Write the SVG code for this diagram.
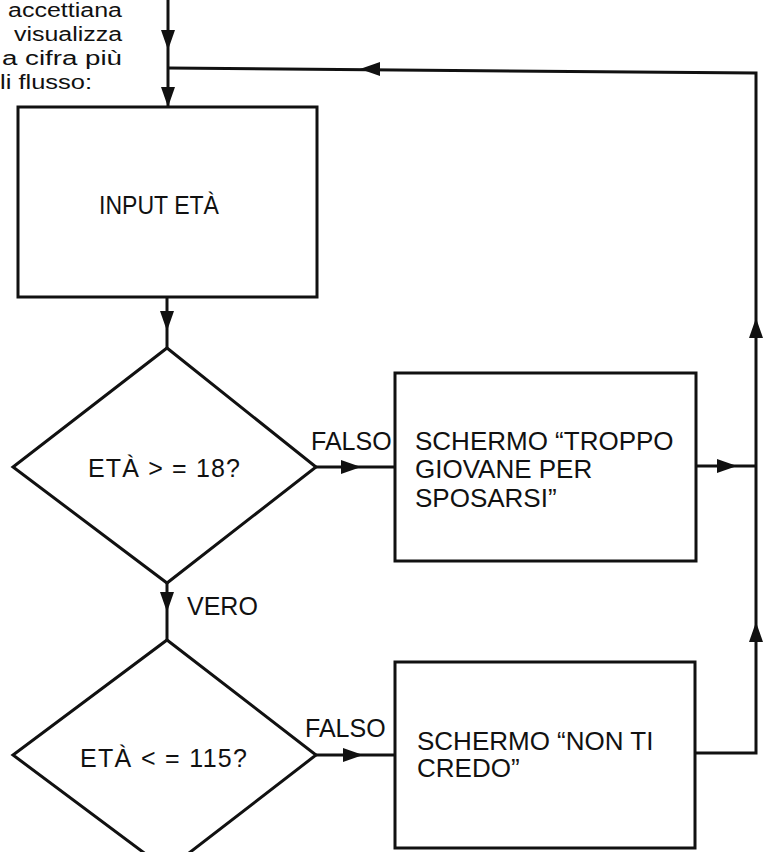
<svg xmlns="http://www.w3.org/2000/svg" xmlns:xlink="http://www.w3.org/1999/xlink" width="768" height="852" viewBox="0 0 768 852">
<style>
.shape{fill:#fff;stroke:#111;stroke-width:3;stroke-linejoin:miter}
.line{fill:none;stroke:#111;stroke-width:3}
.t{font-family:"Liberation Sans",Arial,sans-serif;font-size:25px;fill:#111}
.b{font-family:"Liberation Sans",Arial,sans-serif;font-size:26px;fill:#111}
.cap{font-family:"Liberation Sans",Arial,sans-serif;font-size:20px;fill:#111}
.ah{fill:#111}
</style>
<defs>
<path id="ah" d="M0,0 L-20,-7 L-20,7 Z"/>
</defs>
<rect width="768" height="852" fill="#fff"/>
<g id="caption">
<text class="cap" x="8" y="17" textLength="114" lengthAdjust="spacingAndGlyphs">accettiana</text>
<text class="cap" x="14" y="41" textLength="108" lengthAdjust="spacingAndGlyphs">visualizza</text>
<text class="cap" x="2" y="65" textLength="120" lengthAdjust="spacingAndGlyphs">a cifra più</text>
<text class="cap" x="0" y="89" textLength="92" lengthAdjust="spacingAndGlyphs">li flusso:</text>
</g>
<g id="connectors">
<path class="line" d="M168,0 V107"/>
<path class="line" d="M695,753 H756 V73 L168,68"/>
<path class="line" d="M696,466 H756"/>
<path class="line" d="M316,467 H395"/>
<path class="line" d="M316,755 H395"/>
<path class="line" d="M167,297 V348"/>
<path class="line" d="M167,583 V640"/>
<g class="ah">
<use xlink:href="#ah" transform="translate(168,50) rotate(90)"/>
<use xlink:href="#ah" transform="translate(168,107) rotate(90)"/>
<use xlink:href="#ah" transform="translate(360,69) rotate(180)"/>
<use xlink:href="#ah" transform="translate(756,318) rotate(-90)"/>
<use xlink:href="#ah" transform="translate(756,622) rotate(-90)"/>
<use xlink:href="#ah" transform="translate(737,466)"/>
<use xlink:href="#ah" transform="translate(361,467)"/>
<use xlink:href="#ah" transform="translate(363,755)"/>
<use xlink:href="#ah" transform="translate(167,331) rotate(90)"/>
<use xlink:href="#ah" transform="translate(167,612) rotate(90)"/>
</g>
<text class="t" x="311" y="450">FALSO</text>
<text class="t" x="187" y="615">VERO</text>
<text class="t" x="305" y="737">FALSO</text>
</g>
<g id="input">
<rect class="shape" x="18" y="107" width="299" height="190"/>
<text class="t" x="99" y="214" textLength="120" lengthAdjust="spacingAndGlyphs">INPUT ETÀ</text>
</g>
<g id="decision1">
<polygon class="shape" points="167,348 316,467 167,583 13,467"/>
<text class="t" x="88" y="477" textLength="152">ETÀ &gt; = 18?</text>
</g>
<g id="box-troppo">
<rect class="shape" x="395" y="373" width="301" height="188"/>
<text class="b" x="415" y="450">SCHERMO “TROPPO</text>
<text class="b" x="415" y="478">GIOVANE PER</text>
<text class="b" x="415" y="507">SPOSARSI”</text>
</g>
<g id="decision2">
<polygon class="shape" points="167,640 316,755 167,870 13,755"/>
<text class="t" x="80" y="767" textLength="167">ETÀ &lt; = 115?</text>
</g>
<g id="box-noncredo">
<rect class="shape" x="395" y="662" width="300" height="186"/>
<text class="b" x="417" y="750">SCHERMO “NON TI</text>
<text class="b" x="417" y="777">CREDO”</text>
</g>
</svg>
